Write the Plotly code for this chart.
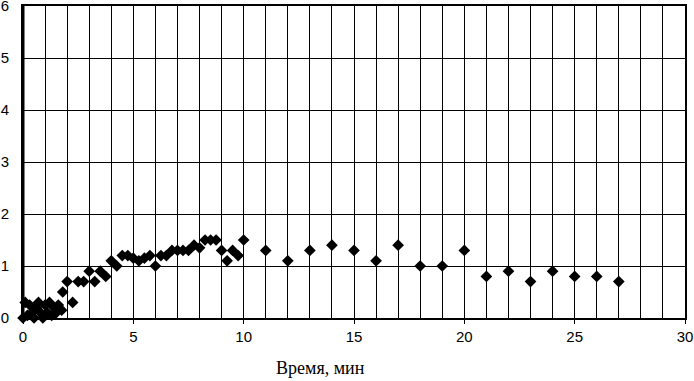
import plotly.graph_objects as go

# Time, min
time_min = [0.0, 0.1, 0.2, 0.3, 0.4, 0.5, 0.6, 0.7, 0.8, 0.9, 1.0, 1.1, 1.2, 1.3, 1.4, 1.5, 1.6, 1.75,
            1.8, 2.0, 2.25, 2.5, 2.75, 3.0, 3.25, 3.5, 3.75, 4.0, 4.25, 4.5, 4.75, 5.0, 5.25, 5.5,
            5.75, 6.0, 6.25, 6.5, 6.75, 7.0, 7.25, 7.5, 7.75, 8.0, 8.25, 8.5, 8.75, 9.0, 9.25, 9.5,
            9.75, 10.0, 11, 12, 13, 14, 15, 16, 17, 18, 19, 20, 21, 22, 23, 24, 25, 26, 27]
values = [0.0, 0.3, 0.05, 0.25, 0.1, 0.0, 0.2, 0.3, 0.1, 0.0, 0.25, 0.1, 0.3, 0.05, 0.2, 0.1, 0.25, 0.15,
          0.5, 0.7, 0.3, 0.7, 0.7, 0.9, 0.7, 0.9, 0.8, 1.1, 1.0, 1.2, 1.2, 1.15, 1.1, 1.15,
          1.2, 1.0, 1.2, 1.2, 1.3, 1.3, 1.3, 1.3, 1.4, 1.35, 1.5, 1.5, 1.5, 1.3, 1.1, 1.3,
          1.2, 1.5, 1.3, 1.1, 1.3, 1.4, 1.3, 1.1, 1.4, 1.0, 1.0, 1.3, 0.8, 0.9, 0.7, 0.9, 0.8, 0.8, 0.7]

x_ticks = [0, 5, 10, 15, 20, 25, 30]
y_ticks = [0, 1, 2, 3, 4, 5, 6]

L, R, T, B = 23, 9, 6, 63
W, H = 694, 381
plot_w = W - L - R
plot_h = H - T - B

fig = go.Figure()
fig.add_trace(go.Scatter(
    x=time_min, y=values, mode="markers",
    marker=dict(symbol="diamond", size=9, color="black", line=dict(width=0)),
    cliponaxis=False, showlegend=False,
))

fig.update_layout(
    width=W, height=H,
    margin=dict(l=L, r=R, t=T, b=B, autoexpand=False),
    paper_bgcolor="white", plot_bgcolor="white",
    font=dict(family="Liberation Sans, Arial, sans-serif", size=15, color="black"),
    xaxis=dict(
        range=[0, 30], tickvals=x_ticks, ticktext=[str(v) for v in x_ticks],
        showgrid=True, gridcolor="black", gridwidth=1,
        minor=dict(dtick=1, showgrid=True, gridcolor="black", gridwidth=1, ticks=""),
        ticks="outside", ticklen=4, tickcolor="black", tickwidth=1,
        showline=True, linecolor="black", linewidth=2, mirror=True,
        zeroline=False, fixedrange=True, automargin=False,
        ticklabeloverflow="allow",
    ),
    yaxis=dict(
        range=[0, 6], tickvals=y_ticks, ticktext=[str(v) for v in y_ticks],
        showgrid=True, gridcolor="black", gridwidth=1,
        ticks="", ticklabelstandoff=9,
        showline=True, linecolor="black", linewidth=2, mirror=True,
        zeroline=False, fixedrange=True, automargin=False,
        ticklabeloverflow="allow",
    ),
    annotations=[dict(
        text="Время, мин",
        x=(320 - L) / plot_w, y=(H - B - 368) / plot_h,
        xref="paper", yref="paper", xanchor="center", yanchor="middle",
        showarrow=False,
        font=dict(family="Liberation Serif, Times New Roman, serif", size=18, color="black"),
    )],
    shapes=[dict(type="line", xref="paper", yref="paper", x0=0, x1=0, y0=0, y1=1,
                 line=dict(color="black", width=3))],
)

fig.write_html("out.html", config={"displayModeBar": False},
               post_script="document.body.style.margin='0';document.body.style.padding='0';")
